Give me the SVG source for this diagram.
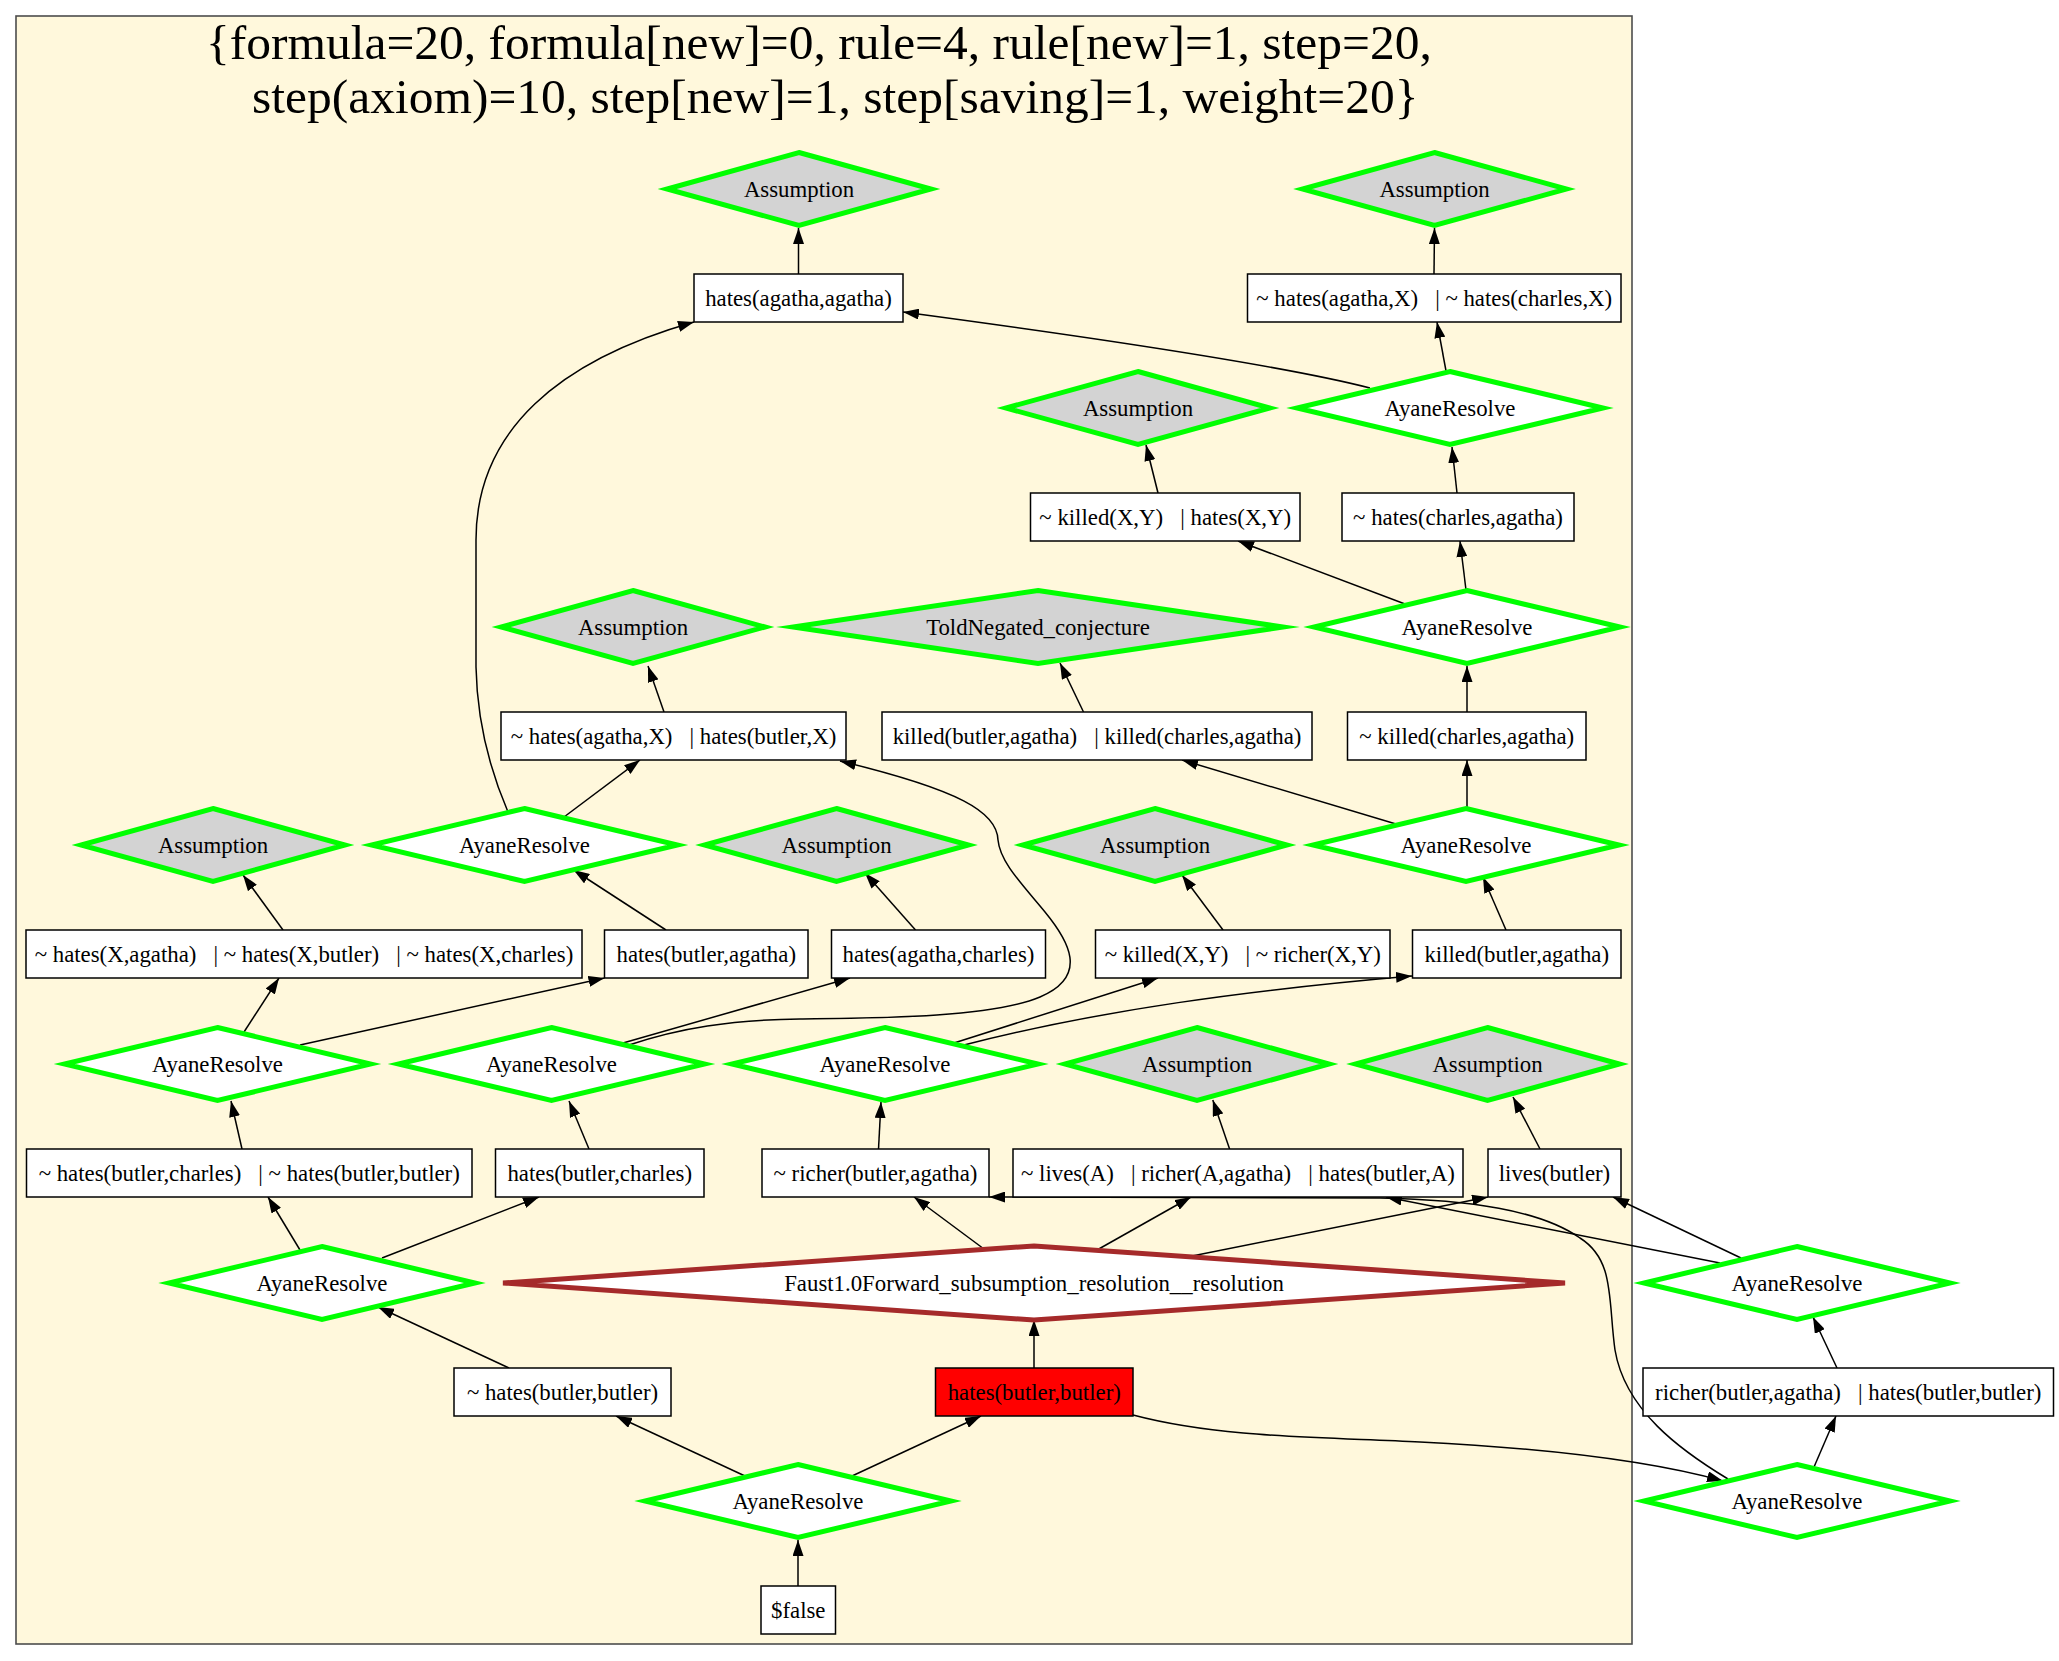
<svg xmlns="http://www.w3.org/2000/svg" width="2059" height="1661" viewBox="0 0 2059 1661">
<style>
.bx{fill:#ffffff;stroke:#000000;stroke-width:1.5}
.red{fill:#ff0000;stroke:#000000;stroke-width:1.5}
.as{fill:#d3d3d3;stroke:#00ff00;stroke-width:5;stroke-miterlimit:10}
.ar{fill:#ffffff;stroke:#00ff00;stroke-width:5;stroke-miterlimit:10}
.fa{fill:#ffffff;stroke:#a52a2a;stroke-width:5;stroke-miterlimit:10}
.t{font-family:"Liberation Serif","Times New Roman",serif;font-size:22.8px;text-anchor:middle;white-space:pre;fill:#000000}
.ttl{font-family:"Liberation Serif","Times New Roman",serif;font-size:49.5px;white-space:pre;fill:#000000}
.e{fill:none;stroke:#000000;stroke-width:1.5;marker-end:url(#ah)}
</style>
<defs>
<marker id="ah" markerUnits="userSpaceOnUse" markerWidth="16" markerHeight="11" refX="16" refY="5.5" orient="auto">
<path d="M0,0 L16,5.5 L0,11 Z" fill="#000000"/>
</marker>
</defs>
<rect x="0" y="0" width="2059" height="1661" fill="#ffffff"/>
<g id="cluster">
<rect x="16" y="16" width="1616" height="1628" fill="#fff8dc" stroke="#4d4d4d" stroke-width="1.6"/>
<text class="ttl" x="206" y="59">{formula=20, formula[new]=0, rule=4, rule[new]=1, step=20,</text>
<text class="ttl" x="252" y="113">step(axiom)=10, step[new]=1, step[saving]=1, weight=20}</text>
</g>
<g id="edges">
<path class="e" d="M798.5,274 L798.5,228"/>
<path class="e" d="M1434,274 L1434.5,228"/>
<path class="e" d="M1446,371 L1437,322"/>
<path class="e" d="M1370,388 C1300,370 1150,345 903,312"/>
<path class="e" d="M1158,493 L1146,445"/>
<path class="e" d="M1457,493 L1452,447"/>
<path class="e" d="M1405,604 L1238,541"/>
<path class="e" d="M1466,590 L1460,541"/>
<path class="e" d="M664,712 L648,666"/>
<path class="e" d="M1083.5,712 L1060,663"/>
<path class="e" d="M1467,712 L1467,666"/>
<path class="e" d="M564,817 L640,760"/>
<path class="e" d="M508,812 C490,770 477,720 476,667 L476,540 C476,430 560,360 694,322"/>
<path class="e" d="M1396,824 L1182,760"/>
<path class="e" d="M1467,807 L1467,760"/>
<path class="e" d="M283,930 L243,875"/>
<path class="e" d="M666,930 L573.6,870"/>
<path class="e" d="M915.5,930 L865,873"/>
<path class="e" d="M1223,930 L1182,875"/>
<path class="e" d="M1506,930 L1483,877"/>
<path class="e" d="M244,1032 L279,978"/>
<path class="e" d="M300,1045 L604.5,978"/>
<path class="e" d="M623,1043 L850,978"/>
<path class="e" d="M629,1045 C680,1028 730,1020 800,1019 C870,1018 990,1018 1040,997 C1090,976 1068,940 1045,912 C1022,884 1000,862 998,840 C997,812 960,790 840,761"/>
<path class="e" d="M954,1043 L1158,978"/>
<path class="e" d="M964,1045 C1100,1010 1250,990 1412,976"/>
<path class="e" d="M242,1149 L231,1101"/>
<path class="e" d="M589,1149 L569,1101"/>
<path class="e" d="M878.5,1149 L881,1102"/>
<path class="e" d="M1229.6,1149 L1212.8,1100"/>
<path class="e" d="M1540,1149 L1513,1097"/>
<path class="e" d="M300,1250 L268,1197"/>
<path class="e" d="M382,1258 L539,1197"/>
<path class="e" d="M984,1249 L914,1197"/>
<path class="e" d="M1097,1250 L1191,1197"/>
<path class="e" d="M1192,1256 L1488,1197"/>
<path class="e" d="M1741,1258 L1613,1197"/>
<path class="e" d="M1720,1263 L1386,1197"/>
<path class="e" d="M1728,1479 C1680,1450 1625,1410 1615,1350 C1608,1300 1615,1260 1580,1238 C1540,1210 1470,1200 1380,1198 L989,1197"/>
<path class="e" d="M509,1368 L378,1307"/>
<path class="e" d="M1034,1368 L1034,1320"/>
<path class="e" d="M1837,1368 L1813,1317"/>
<path class="e" d="M745,1476 L616,1416"/>
<path class="e" d="M852,1476 L981,1416"/>
<path class="e" d="M1814,1467 L1836,1416"/>
<path class="e" d="M798,1586 L798,1540"/>
<path class="e" d="M1133,1415 C1220,1438 1320,1437 1420,1442 C1520,1447 1640,1458 1723,1481"/>
</g>
<g id="A1"><polygon class="as" points="799,152.5 931,189 799,225.5 667,189"/><text class="t" x="799" y="197">Assumption</text></g>
<g id="A2"><polygon class="as" points="1434.5,152.5 1566.5,189 1434.5,225.5 1302.5,189"/><text class="t" x="1434.5" y="197">Assumption</text></g>
<g id="B1"><rect class="bx" x="694" y="274" width="209" height="48"/><text class="t" x="798.5" y="306">hates(agatha,agatha)</text></g>
<g id="B2"><rect class="bx" x="1247.5" y="274" width="373.5" height="48"/><text class="t" x="1434.25" y="306">~ hates(agatha,X)   | ~ hates(charles,X)</text></g>
<g id="A3"><polygon class="as" points="1138,371.5 1270,408 1138,444.5 1006,408"/><text class="t" x="1138" y="416">Assumption</text></g>
<g id="R3"><polygon class="ar" points="1450,371.5 1603,408 1450,444.5 1297,408"/><text class="t" x="1450" y="416">AyaneResolve</text></g>
<g id="B3"><rect class="bx" x="1030.5" y="493" width="269.5" height="48"/><text class="t" x="1165.25" y="525">~ killed(X,Y)   | hates(X,Y)</text></g>
<g id="B4"><rect class="bx" x="1342" y="493" width="232" height="48"/><text class="t" x="1458" y="525">~ hates(charles,agatha)</text></g>
<g id="A4"><polygon class="as" points="633,590.5 765,627 633,663.5 501,627"/><text class="t" x="633" y="635">Assumption</text></g>
<g id="T1"><polygon class="as" points="1038,590.5 1283,627 1038,663.5 793,627"/><text class="t" x="1038" y="635">ToldNegated_conjecture</text></g>
<g id="R5"><polygon class="ar" points="1467,590.5 1620,627 1467,663.5 1314,627"/><text class="t" x="1467" y="635">AyaneResolve</text></g>
<g id="B5"><rect class="bx" x="501" y="712" width="345" height="48"/><text class="t" x="673.5" y="744">~ hates(agatha,X)   | hates(butler,X)</text></g>
<g id="B6"><rect class="bx" x="882" y="712" width="430" height="48"/><text class="t" x="1097" y="744">killed(butler,agatha)   | killed(charles,agatha)</text></g>
<g id="B7"><rect class="bx" x="1347.5" y="712" width="238.5" height="48"/><text class="t" x="1466.75" y="744">~ killed(charles,agatha)</text></g>
<g id="A5"><polygon class="as" points="213,808.5 345,845 213,881.5 81,845"/><text class="t" x="213" y="853">Assumption</text></g>
<g id="R7a"><polygon class="ar" points="524.5,808.5 677.5,845 524.5,881.5 371.5,845"/><text class="t" x="524.5" y="853">AyaneResolve</text></g>
<g id="A6"><polygon class="as" points="836.5,808.5 968.5,845 836.5,881.5 704.5,845"/><text class="t" x="836.5" y="853">Assumption</text></g>
<g id="A7"><polygon class="as" points="1155,808.5 1287,845 1155,881.5 1023,845"/><text class="t" x="1155" y="853">Assumption</text></g>
<g id="R7b"><polygon class="ar" points="1466,808.5 1619,845 1466,881.5 1313,845"/><text class="t" x="1466" y="853">AyaneResolve</text></g>
<g id="B8"><rect class="bx" x="26" y="930" width="556" height="48"/><text class="t" x="304" y="962">~ hates(X,agatha)   | ~ hates(X,butler)   | ~ hates(X,charles)</text></g>
<g id="B9"><rect class="bx" x="604.5" y="930" width="203.5" height="48"/><text class="t" x="706.25" y="962">hates(butler,agatha)</text></g>
<g id="B10"><rect class="bx" x="831.5" y="930" width="214" height="48"/><text class="t" x="938.5" y="962">hates(agatha,charles)</text></g>
<g id="B11"><rect class="bx" x="1095.5" y="930" width="294.5" height="48"/><text class="t" x="1242.75" y="962">~ killed(X,Y)   | ~ richer(X,Y)</text></g>
<g id="B12"><rect class="bx" x="1412.5" y="930" width="208.5" height="48"/><text class="t" x="1516.75" y="962">killed(butler,agatha)</text></g>
<g id="R9a"><polygon class="ar" points="217.5,1027.5 370.5,1064 217.5,1100.5 64.5,1064"/><text class="t" x="217.5" y="1072">AyaneResolve</text></g>
<g id="R9b"><polygon class="ar" points="551.5,1027.5 704.5,1064 551.5,1100.5 398.5,1064"/><text class="t" x="551.5" y="1072">AyaneResolve</text></g>
<g id="R9c"><polygon class="ar" points="885,1027.5 1038,1064 885,1100.5 732,1064"/><text class="t" x="885" y="1072">AyaneResolve</text></g>
<g id="A8"><polygon class="as" points="1197,1027.5 1329,1064 1197,1100.5 1065,1064"/><text class="t" x="1197" y="1072">Assumption</text></g>
<g id="A9"><polygon class="as" points="1487.5,1027.5 1619.5,1064 1487.5,1100.5 1355.5,1064"/><text class="t" x="1487.5" y="1072">Assumption</text></g>
<g id="B13"><rect class="bx" x="26.5" y="1149" width="445.5" height="48"/><text class="t" x="249.25" y="1181">~ hates(butler,charles)   | ~ hates(butler,butler)</text></g>
<g id="B14"><rect class="bx" x="495.5" y="1149" width="208.5" height="48"/><text class="t" x="599.75" y="1181">hates(butler,charles)</text></g>
<g id="B15"><rect class="bx" x="762" y="1149" width="227" height="48"/><text class="t" x="875.5" y="1181">~ richer(butler,agatha)</text></g>
<g id="B16"><rect class="bx" x="1013" y="1149" width="450" height="48"/><text class="t" x="1238" y="1181">~ lives(A)   | richer(A,agatha)   | hates(butler,A)</text></g>
<g id="B17"><rect class="bx" x="1488" y="1149" width="133" height="48"/><text class="t" x="1554.5" y="1181">lives(butler)</text></g>
<g id="R11a"><polygon class="ar" points="322,1246.5 475,1283 322,1319.5 169,1283"/><text class="t" x="322" y="1291">AyaneResolve</text></g>
<g id="F1"><polygon class="fa" points="1034,1246 1565,1283 1034,1320 503,1283"/><text class="t" x="1034" y="1291">Faust1.0Forward_subsumption_resolution__resolution</text></g>
<g id="R11b"><polygon class="ar" points="1797,1246.5 1950,1283 1797,1319.5 1644,1283"/><text class="t" x="1797" y="1291">AyaneResolve</text></g>
<g id="B18"><rect class="bx" x="454" y="1368" width="217" height="48"/><text class="t" x="562.5" y="1400">~ hates(butler,butler)</text></g>
<g id="B19"><rect class="red" x="935.5" y="1368" width="197.5" height="48"/><text class="t" x="1034.25" y="1400">hates(butler,butler)</text></g>
<g id="B20"><rect class="bx" x="1643" y="1368" width="410.5" height="48"/><text class="t" x="1848.25" y="1400">richer(butler,agatha)   | hates(butler,butler)</text></g>
<g id="R13a"><polygon class="ar" points="798,1464.5 951,1501 798,1537.5 645,1501"/><text class="t" x="798" y="1509">AyaneResolve</text></g>
<g id="R13b"><polygon class="ar" points="1797,1464.5 1950,1501 1797,1537.5 1644,1501"/><text class="t" x="1797" y="1509">AyaneResolve</text></g>
<g id="B21"><rect class="bx" x="761" y="1586" width="74.5" height="48"/><text class="t" x="798.25" y="1618">$false</text></g>
</svg>
